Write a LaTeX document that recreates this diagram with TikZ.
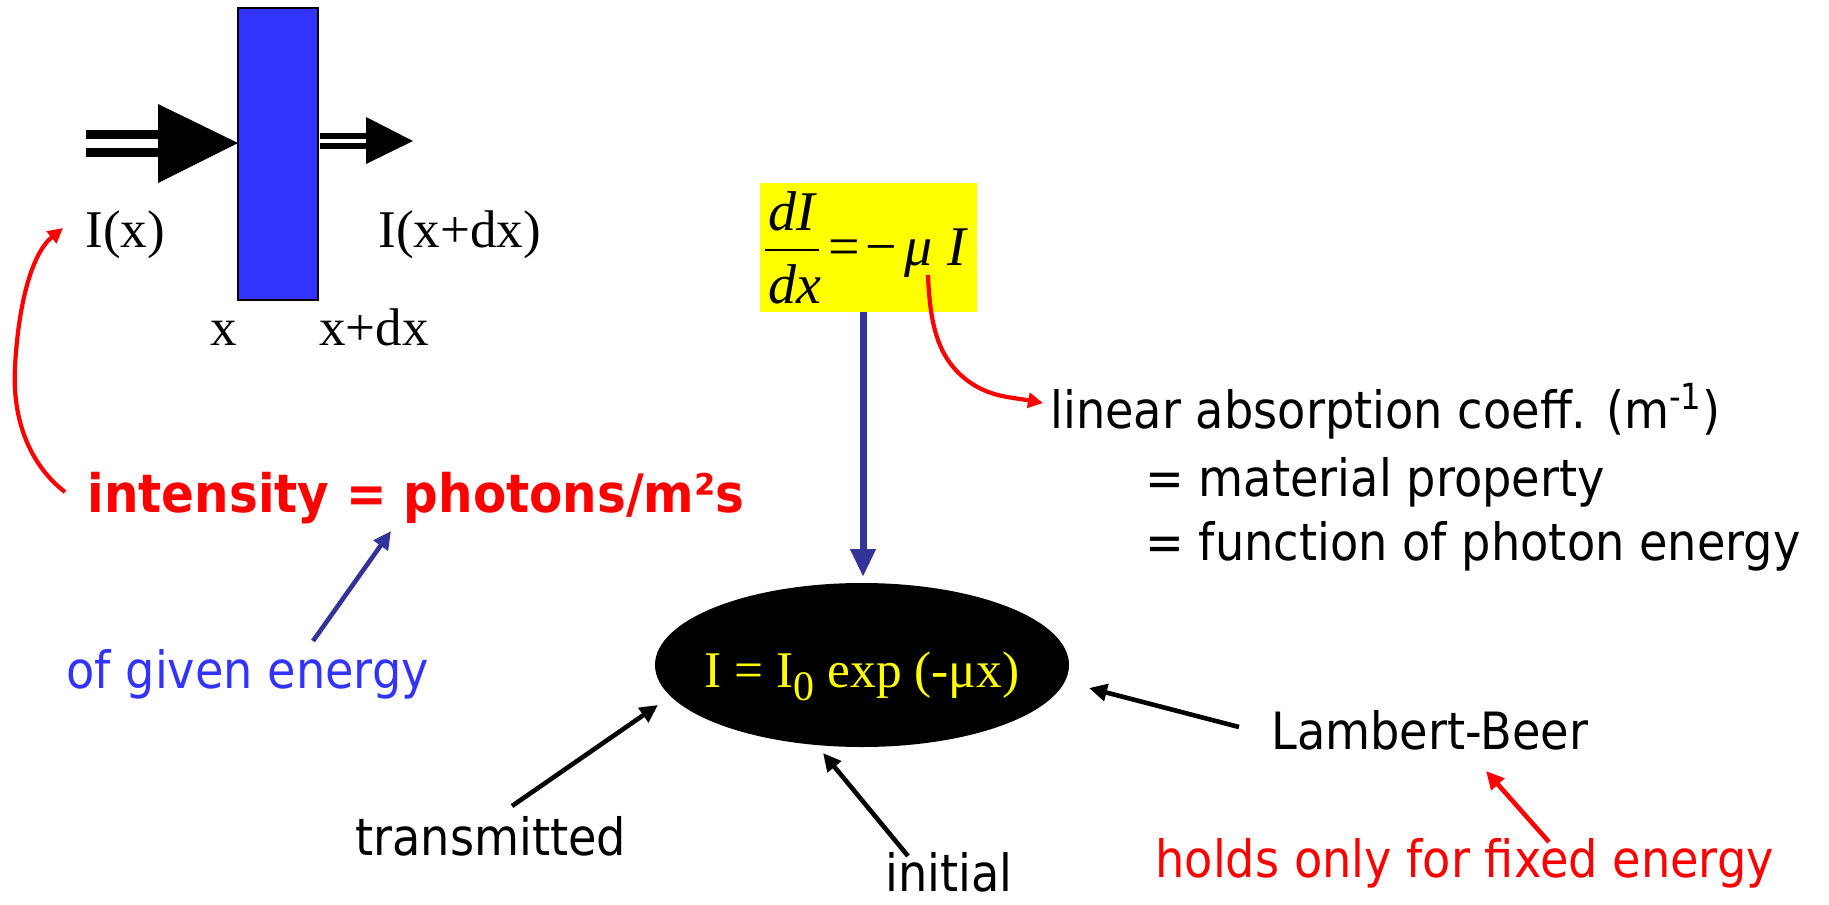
\documentclass[tikz,border=0pt]{standalone}
\usepackage{fontspec}
\setmainfont{Liberation Serif}
\newfontfamily\tah[FakeStretch=0.9]{DejaVu Sans}
\newfontfamily\tahb[FakeStretch=0.915]{DejaVu Sans Bold}
\usetikzlibrary{arrows.meta,shapes.geometric}
\definecolor{myred}{HTML}{FF0000}
\definecolor{myblue}{HTML}{3333FF}
\definecolor{darkblue}{HTML}{333399}
\definecolor{myyellow}{HTML}{FFFF00}
\definecolor{slabblue}{HTML}{3333FF}
\tikzset{
  sans/.style={font=\tah\fontsize{25.7}{30}\selectfont, inner sep=0pt, anchor=base west},
  boldsans/.style={font=\tahb\fontsize{26.5}{30}\selectfont, inner sep=0pt, anchor=base west},
  serif/.style={font=\fontsize{26.5}{30}\selectfont, inner sep=0pt, anchor=base west},
  eqfont/.style={font=\fontsize{28}{30}\selectfont, inner sep=0pt, anchor=base west},
  blackarrow/.style={line width=2.3pt, -{Triangle[length=9pt,width=8.5pt]}},
  redarrow/.style={myred, line width=2.3pt, -{Triangle[length=9pt,width=8.5pt]}},
  bluearrow/.style={darkblue, line width=2.3pt, -{Triangle[length=9pt,width=8.5pt]}},
  redcurve/.style={myred, line width=2.1pt, -{Triangle[length=7.5pt,width=7.5pt]}},
  vertarrow/.style={darkblue, line width=3.5pt, -{Triangle[length=14pt,width=12pt]}},
}
\begin{document}
\begin{tikzpicture}[x=0.5pt,y=-0.5pt]
\useasboundingbox (0,0) rectangle (1829,904);

% slab and beam arrows
\node[draw=black, fill=slabblue, line width=0.6pt, minimum width=40pt, minimum height=146pt, inner sep=0pt] (slab) at (278,154) {};
\fill (86,130) rectangle (158,139);
\fill (86,148) rectangle (158,157);
\fill (158,104) -- (238,143) -- (158,183) -- cycle;
\fill (320,133) rectangle (366,139);
\fill (320,143) rectangle (366,149);
\fill (366,117) -- (413,141) -- (366,164) -- cycle;

\node[serif] (Ix) at (85,247) {I(x)};
\node[serif] (Ixdx) at (378,247) {I(x+dx)};
\node[serif] (xl) at (210,345) {x};
\node[serif] (xdxl) at (319,345) {x+dx};

% intensity
\node[boldsans, text=myred] (intens) at (87,512) {intensity = photons/m²s};
\node[sans, text=myblue] (given) at (66,688) {of given energy};
\coordinate (cstart) at (65,492);
\coordinate (ctip) at (63,228);
\draw[redcurve] (cstart) .. controls (30,465) and (12,420) .. (15,367)
  .. controls (18,310) and (30,255) .. (ctip);
\coordinate (gtail) at (313,641);
\coordinate (gtip) at (391,531);
\draw[bluearrow] (gtail) -- (gtip);

% equation box
\node[fill=myyellow, minimum width=108.5pt, minimum height=64.5pt, inner sep=0pt] (eqbox) at (868.5,247.5) {};
\node[eqfont] (dI) at (768,230) {\itshape dI};
\draw[line width=0.8pt] (765,250) -- (819,250);
\node[eqfont] (dx) at (768,303) {\itshape dx};
\node[eqfont] (eqs) at (828,265) {=};
\node[eqfont] (minus) at (865,265) {−};
\node[eqfont] (mu) at (904,265) {\itshape μ};
\node[eqfont] (Ieq) at (947,265) {\itshape I};

% mu curve
\coordinate (mstart) at (928,275);
\coordinate (mtip) at (1043,403);
\draw[redcurve] (mstart) .. controls (930,330) and (940,360) .. (968,381)
  .. controls (990,397) and (1010,397) .. (mtip);

\node[sans] (lin) at (1050,428) {linear absorption coeff. (m\textsuperscript{-1})};
\node[sans] (mat) at (1145,496) {= material property};
\node[sans] (fun) at (1145,560) {= function of photon energy};

% vertical arrow
\coordinate (vtop) at (863,312);
\coordinate (vtip) at (863,577);
\draw[vertarrow] (vtop) -- (vtip);

% ellipse
\node[ellipse, fill=black, minimum width=207pt, minimum height=82pt, inner sep=0pt] (ell) at (862,665) {};
\node[font=\fontsize{25.7}{30}\selectfont, text=myyellow, inner sep=0pt, anchor=base] (law) at (862,687)
  {I = I\raisebox{-6.5pt}{\fontsize{21}{21}\selectfont 0} exp (-μx)};

% labels and arrows
\node[sans] (lb) at (1271,749) {Lambert-Beer};
\node[sans] (trans) at (355,855) {transmitted};
\node[sans] (init) at (885,891) {initial};
\node[sans, text=myred] (holds) at (1155,877) {holds only for fixed energy};

\coordinate (ttail) at (512,806);
\coordinate (ttip) at (658,705);
\draw[blackarrow] (ttail) -- (ttip);
\coordinate (itail) at (908,856);
\coordinate (itip) at (823,753);
\draw[blackarrow] (itail) -- (itip);
\coordinate (ltail) at (1239,727);
\coordinate (ltip) at (1089,688);
\draw[blackarrow] (ltail) -- (ltip);
\coordinate (htail) at (1549,842);
\coordinate (htip) at (1486,771);
\draw[redarrow] (htail) -- (htip);
\end{tikzpicture}
\end{document}
